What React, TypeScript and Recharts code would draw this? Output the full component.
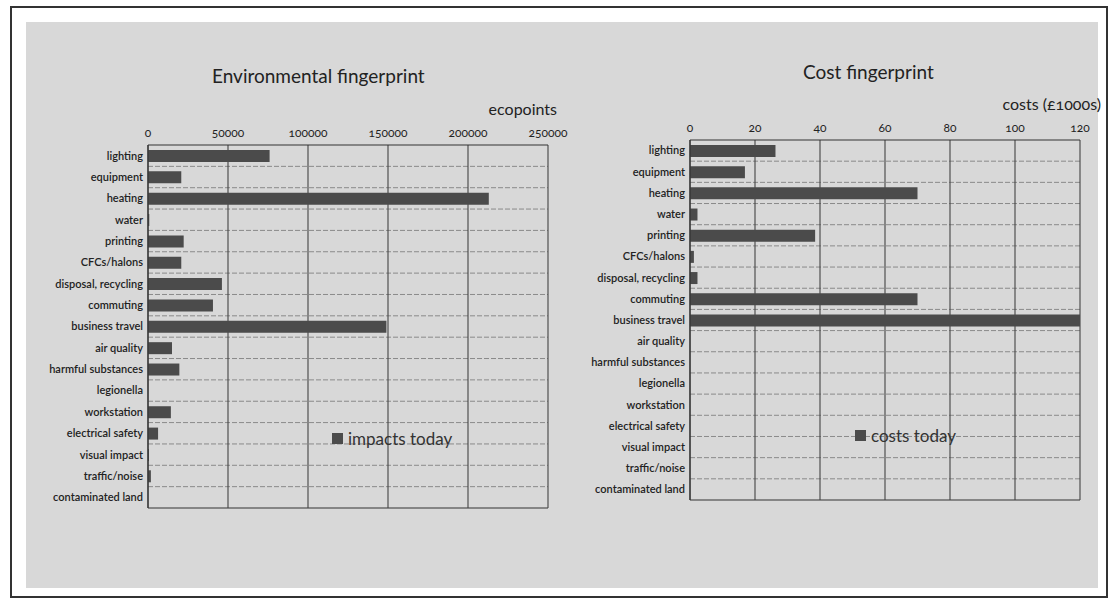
import { BarChart, Bar, XAxis, YAxis, CartesianGrid, Legend } from 'recharts';

const categories = [
  'lighting', 'equipment', 'heating', 'water', 'printing', 'CFCs/halons',
  'disposal, recycling', 'commuting', 'business travel', 'air quality',
  'harmful substances', 'legionella', 'workstation', 'electrical safety',
  'visual impact', 'traffic/noise', 'contaminated land',
];

// ecopoints per category
const impactsToday = [
  76000, 20800, 213000, 800, 22300, 20800, 46200, 40600, 149000, 15000,
  19600, 0, 14300, 6300, 600, 1800, 0,
];

// costs in £1000s
const costsToday = [
  26.3, 16.9, 70, 2.3, 38.5, 1.2, 2.3, 70, 120, 0, 0, 0, 0, 0, 0, 0, 0,
];

const ecoTicks = [0, 50000, 100000, 150000, 200000, 250000];
const costTicks = [0, 20, 40, 60, 80, 100, 120];

const impactData = categories.map((name, i) => ({ name, value: impactsToday[i] }));
const costData = categories.map((name, i) => ({ name, value: costsToday[i] }));

const FONT = 'Lato, "Open Sans", sans-serif';
const BAR = '#4b4b4b';
const INK = '#222';

// horizontal lines sit on band boundaries, not band centres
const bandLines = (n: number, which: 'inner' | 'bottom') => ({ offset }: any) => {
  if (which === 'bottom') return [offset.top + offset.height];
  return Array.from({ length: n - 1 }, (_, i) => offset.top + ((i + 1) * offset.height) / n);
};

const LegendBox = ({ label }: { label: string }) => (
  <div style={{ display: 'flex', alignItems: 'center', fontFamily: FONT, fontSize: 17, color: '#333' }}>
    <span style={{ width: 11, height: 11, background: BAR, marginRight: 5, display: 'inline-block' }} />
    {label}
  </div>
);

interface PanelProps {
  data: { name: string; value: number }[];
  ticks: number[];
  width: number;
  margin: { top: number; right: number; bottom: number; left: number };
  yWidth: number;
  legend: string;
  legendPos: { left: number; top: number };
}

const Panel = ({ data, ticks, width, margin, yWidth, legend, legendPos }: PanelProps) => (
  <BarChart
    width={width}
    height={604}
    data={data}
    layout="vertical"
    margin={margin}
    barCategoryGap={0}
  >
    <CartesianGrid
      vertical={false}
      stroke="#8a8a8a"
      strokeDasharray="5 2"
      horizontalCoordinatesGenerator={bandLines(data.length, 'inner')}
    />
    <CartesianGrid
      vertical={false}
      stroke="#333"
      strokeWidth={1.2}
      horizontalCoordinatesGenerator={bandLines(data.length, 'bottom')}
    />
    <CartesianGrid horizontal={false} stroke="#444" strokeWidth={1.1} />
    <XAxis
      type="number"
      orientation="top"
      domain={[ticks[0], ticks[ticks.length - 1]]}
      ticks={ticks}
      height={20}
      tickLine={false}
      axisLine={{ stroke: '#333', strokeWidth: 1.2 }}
      tick={{ fontSize: 12, fill: INK, fontFamily: FONT }}
      interval={0}
    />
    <YAxis
      type="category"
      dataKey="name"
      width={yWidth}
      tickLine={false}
      tickSize={3}
      tickMargin={2}
      axisLine={{ stroke: '#333', strokeWidth: 1.2 }}
      tick={{ fontSize: 11, fill: INK, fontFamily: FONT, fontWeight: 600 }}
      interval={0}
    />
    <Bar dataKey="value" fill={BAR} barSize={12} isAnimationActive={false} />
    {/* middle-aligned so the legend does not eat into the plot area */}
    <Legend
      layout="horizontal"
      verticalAlign="middle"
      align="center"
      content={() => <LegendBox label={legend} />}
      wrapperStyle={{ position: 'absolute', left: legendPos.left, top: legendPos.top, width: 'auto' }}
    />
  </BarChart>
);

const titleStyle = { position: 'absolute' as const, fontFamily: FONT, color: '#222', whiteSpace: 'nowrap' as const };

export default function App() {
  return (
    <div
      style={{
        position: 'absolute', left: 0, top: 0, width: 1116, height: 604,
        background: '#fff', fontVariantNumeric: 'oldstyle-nums',
      }}
    >
      <div
        style={{
          position: 'absolute', left: 10, top: 6, width: 1098, height: 592,
          border: '2px solid #333', boxSizing: 'border-box',
        }}
      />
      <div style={{ position: 'absolute', left: 26, top: 22, width: 1072, height: 566, background: '#d8d8d8' }} />

      <div style={{ ...titleStyle, left: 212, top: 64, fontSize: 19 }}>Environmental fingerprint</div>
      <div style={{ ...titleStyle, right: 1116 - 557, top: 99, fontSize: 16 }}>ecopoints</div>
      <div style={{ ...titleStyle, left: 803, top: 60, fontSize: 19 }}>Cost fingerprint</div>
      <div style={{ ...titleStyle, right: 1116 - 1101, top: 94, fontSize: 16 }}>costs (£1000s)</div>

      <div style={{ position: 'absolute', left: 0, top: 0 }}>
        <Panel
          data={impactData}
          ticks={ecoTicks}
          width={580}
          margin={{ top: 125, right: 32, bottom: 96, left: 8 }}
          yWidth={140}
          legend="impacts today"
          legendPos={{ left: 332, top: 428 }}
        />
      </div>
      <div style={{ position: 'absolute', left: 560, top: 0 }}>
        <Panel
          data={costData}
          ticks={costTicks}
          width={556}
          margin={{ top: 120, right: 36, bottom: 104, left: 0 }}
          yWidth={130}
          legend="costs today"
          legendPos={{ left: 295, top: 425 }}
        />
      </div>
    </div>
  );
}
